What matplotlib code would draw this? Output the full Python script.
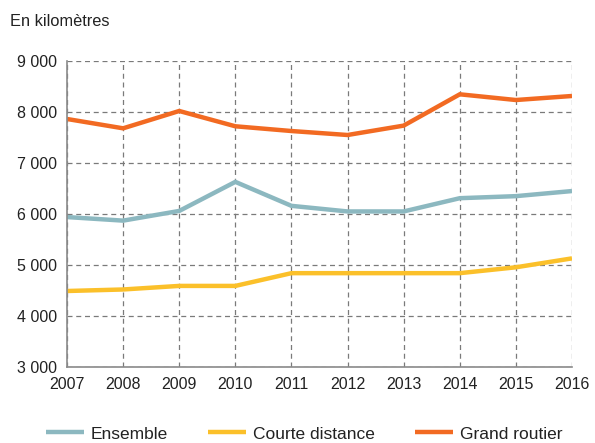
import matplotlib
matplotlib.use("Agg")
import matplotlib.pyplot as plt
from matplotlib.ticker import FuncFormatter

plt.rcParams["font.family"] = ["Liberation Sans", "DejaVu Sans"]

# %% data
years = [2007, 2008, 2009, 2010, 2011, 2012, 2013, 2014, 2015, 2016]
ensemble = [5940, 5870, 6060, 6630, 6160, 6050, 6050, 6310, 6350, 6450]
courte_distance = [4490, 4520, 4590, 4590, 4840, 4840, 4840, 4840, 4955, 5130]
grand_routier = [7863, 7680, 8020, 7720, 7627, 7549, 7733, 8347, 8235, 8314]

series = [
    ("Ensemble", ensemble, "#8cb8c0"),
    ("Courte distance", courte_distance, "#fbc02a"),
    ("Grand routier", grand_routier, "#f26a22"),
]

# %% plot
fig = plt.figure(figsize=(5.95, 4.43), dpi=100)
ax = fig.add_axes([67 / 595, 1 - 367 / 443, 505 / 595, 306 / 443])

for label, values, color in series:
    ax.plot(years, values, color=color, lw=3.2, label=label,
            solid_capstyle="butt", solid_joinstyle="miter")

ax.set_xlim(2007, 2016)
ax.set_ylim(3000, 9000)
ax.set_xticks(years)
ax.set_yticks(range(3000, 9001, 1000))
ax.yaxis.set_major_formatter(FuncFormatter(lambda v, p: f"{int(v):,}".replace(",", " ")))

ax.grid(True, color="#7a7a7a", ls=(0, (4, 3)), lw=0.9)
ax.set_axisbelow(True)
for side in ("top", "right"):
    ax.spines[side].set_visible(False)
for side in ("left", "bottom"):
    ax.spines[side].set_color("#8a8a8a")
    ax.spines[side].set_linewidth(1.2)
ax.tick_params(length=0, labelsize=11.5, colors="#222222", pad=7)

fig.text(10 / 595, 1 - 21 / 443, "En kilomètres", fontsize=11.8, color="#222222", va="center")

# legend sits at the very bottom edge, like the original
fig.legend(loc="center", bbox_to_anchor=(304 / 595, 1 - 434 / 443), ncol=3, frameon=False,
           fontsize=12.5, handlelength=2.2, columnspacing=2.35, handletextpad=0.35,
           labelcolor="#222222", borderpad=0.1)

fig.savefig("out.png", dpi=100)
